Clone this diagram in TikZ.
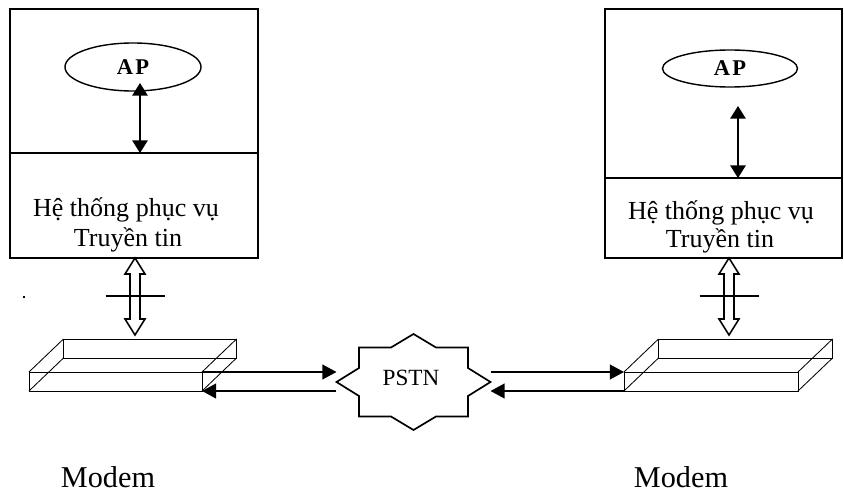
\documentclass[tikz,border=0pt]{standalone}
\usepackage{fontspec}
\setmainfont{Liberation Serif}
\usetikzlibrary{arrows.meta,shapes.geometric}

\begin{document}
\begin{tikzpicture}[x=.025cm, y=-.025cm,
    frame/.style={draw, line width=1.3pt, inner sep=0pt, outer sep=0pt},
    apnode/.style={draw, ellipse, line width=1pt, inner sep=0pt,
      font=\fontsize{16}{18}\selectfont\bfseries},
    txt/.style={anchor=base, font=\fontsize{18.5}{22}\selectfont},
    modemtxt/.style={anchor=base, font=\fontsize{21.5}{25}\selectfont},
    biarrow/.style={line width=1.1pt,
      {Triangle[length=9pt,width=11pt]}-{Triangle[length=9pt,width=11pt]}},
    arr/.style={line width=1.2pt, -{Triangle[length=10pt,width=10.5pt]}},
    hollow/.style={line width=1.1pt},
    slab/.style={draw, line width=.6pt, inner sep=0pt, outer sep=0pt, minimum height=.475cm}]
  \useasboundingbox (0,0) rectangle (844,493);

  % left host
  \node[frame, minimum width=6.2cm, minimum height=3.6cm] (topL) at (134,81) {};
  \node[frame, minimum width=6.2cm, minimum height=2.625cm] (botL) at (134,205.5) {};
  \node[apnode, minimum width=3.4cm, minimum height=1.2cm] (apL) at (133,67) {A\kern1.5pt P};
  \node[txt] (svcL1) at (126,216.5) {Hệ thống phục vụ};
  \node[txt] (svcL2) at (128,246.5) {Truyền tin};
  \coordinate (tipL) at (140,83);
  \draw[biarrow] (tipL) -- (tipL |- topL.south);

  % right host
  \node[frame, minimum width=5.925cm, minimum height=4.225cm] (topR) at (723.5,93.5) {};
  \node[frame, minimum width=5.925cm, minimum height=2cm] (botR) at (723.5,218) {};
  \node[apnode, minimum width=3.375cm, minimum height=.925cm] (apR) at (730,68.5) {A\kern1.5pt P};
  \node[txt] (svcR1) at (721,219.5) {Hệ thống phục vụ};
  \node[txt] (svcR2) at (720,247.5) {Truyền tin};
  \coordinate (tipR) at (738,106);
  \draw[biarrow] (tipR) -- (tipR |- topR.south);

  % hollow links down to the modems
  \coordinate (hsL) at (135,258);
  \coordinate (hsR) at (729,258);
  \foreach \hs in {hsL,hsR} {
    \draw[hollow, shift={(\hs)}] (0,0) -- (10,16) -- (5,16) -- (5,61) -- (10,61)
      -- (0,77) -- (-10,61) -- (-5,61) -- (-5,16) -- (-10,16) -- cycle;
    \draw[hollow, shift={(\hs)}] (-29.5,38) -- (29.5,38);
  }
  \fill (23,296) rectangle (25,298);

  % modems
  \node[slab, minimum width=4.325cm] (modemL) at (115.5,381.5) {};
  \node[slab, minimum width=4.35cm] (modemR) at (711,381.5) {};
  \foreach \m in {modemL,modemR} {
    \draw[line width=.6pt] ([shift={(34.5,-33)}]\m.north west) rectangle ([shift={(34.5,-33)}]\m.south east);
    \foreach \c in {north west,north east,south west,south east}
      \draw[line width=.6pt] (\m.\c) -- ++(34.5,-33);
  }
  \node[modemtxt] (lblL) at (108,487) {Modem};
  \node[modemtxt] (lblR) at (681,487) {Modem};

  % PSTN cloud
  \node[minimum width=3.85cm, minimum height=2.4cm, inner sep=0pt, outer sep=0pt] (pstn) at (413.5,382) {};
  \draw[line width=1.2pt, shift={(pstn.center)}] (-77,0) -- (-54.5,-14) -- (-54.5,-34.5)
    -- (-22.5,-34.5) -- (0,-48) -- (22.5,-34.5) -- (54.5,-34.5) -- (54.5,-14) -- (77,0)
    -- (54.5,14) -- (54.5,34.5) -- (22.5,34.5) -- (0,48) -- (-22.5,34.5) -- (-54.5,34.5)
    -- (-54.5,14) -- cycle;
  \node[anchor=base, font=\fontsize{16.5}{20}\selectfont] (pstnlbl) at (411,385) {PSTN};

  \draw[arr] (modemL.north east) -- (modemL.north east -| pstn.west);
  \draw[arr] (modemL.south east -| pstn.west) -- (modemL.south east);
  \draw[arr] (modemR.north west -| pstn.east) -- (modemR.north west);
  \draw[arr] (modemR.south west) -- (modemR.south west -| pstn.east);
\end{tikzpicture}
\end{document}
